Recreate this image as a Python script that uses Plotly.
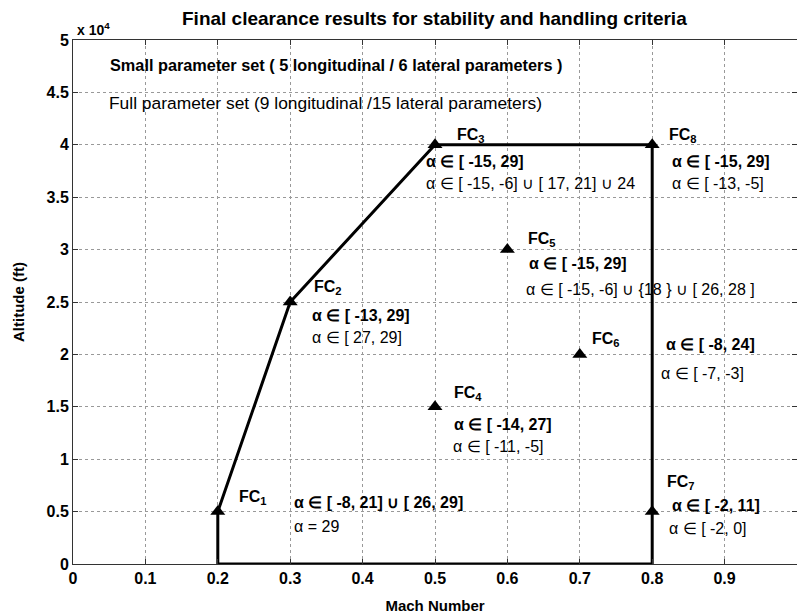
import plotly.graph_objects as go

# ---------------- data ----------------
envelope_mach = [0.2, 0.2, 0.3, 0.5, 0.8, 0.8, 0.2]
envelope_alt = [0, 5000, 25000, 40000, 40000, 0, 0]

fc_names = ["FC<sub>1</sub>", "FC<sub>2</sub>", "FC<sub>3</sub>", "FC<sub>4</sub>",
            "FC<sub>5</sub>", "FC<sub>6</sub>", "FC<sub>7</sub>", "FC<sub>8</sub>"]
fc_mach = [0.2, 0.3, 0.5, 0.5, 0.6, 0.7, 0.8, 0.8]
fc_alt = [5000, 25000, 40000, 15000, 30000, 20000, 5000, 40000]

small_set = ["α ∈ [ -8, 21] ∪ [ 26, 29]", "α ∈ [ -13, 29]", "α ∈ [ -15, 29]",
             "α ∈ [ -14, 27]", "α ∈ [ -15, 29]", "α ∈ [ -8, 24]",
             "α ∈ [ -2, 11]", "α ∈ [ -15, 29]"]
full_set = ["α = 29", "α ∈ [ 27, 29]", "α ∈ [ -15, -6] ∪ [ 17, 21] ∪ 24",
            "α ∈ [ -11, -5]", "α ∈ [ -15, -6] ∪ {18 } ∪ [ 26, 28 ]", "α ∈ [ -7, -3]",
            "α ∈ [ -2, 0]", "α ∈ [ -13, -5]"]

x_ticks = [0, 0.1, 0.2, 0.3, 0.4, 0.5, 0.6, 0.7, 0.8, 0.9, 1.0]
x_tick_labels = ["0", "0.1", "0.2", "0.3", "0.4", "0.5", "0.6", "0.7", "0.8", "0.9", "1"]
y_ticks = [0, 5000, 10000, 15000, 20000, 25000, 30000, 35000, 40000, 45000, 50000]
y_tick_labels = ["0", "0.5", "1", "1.5", "2", "2.5", "3", "3.5", "4", "4.5", "5"]

title_text = "Final clearance results for stability and handling criteria"
small_legend = "Small parameter set ( 5 longitudinal / 6 lateral parameters )"
full_legend = "Full parameter set (9 longitudinal /15 lateral parameters)"

# ---------------- label placement (layout only) ----------------
name_pos = [(0.226, 6300), (0.330, 26400), (0.528, 40900), (0.524, 16300),
            (0.625, 31000), (0.714, 21400), (0.818, 7800), (0.820, 40900)]
small_pos = [(0.302, 5900), (0.327, 23700), (0.485, 38400), (0.524, 13300),
             (0.627, 28700), (0.816, 20900), (0.825, 5600), (0.825, 38400)]
full_pos = [(0.302, 3600), (0.327, 21600), (0.485, 36300), (0.522, 11200),
            (0.623, 26200), (0.810, 18200), (0.821, 3400), (0.825, 36300)]

FONT = "Arial, 'Liberation Sans', Helvetica, sans-serif"
ANN = 16

fig = go.Figure()
fig.add_trace(go.Scatter(x=envelope_mach, y=envelope_alt, mode="lines",
                         line=dict(color="black", width=3), hoverinfo="skip",
                         showlegend=False))
fig.add_trace(go.Scatter(x=fc_mach, y=fc_alt, mode="markers",
                         marker=dict(symbol="triangle-up", size=13, color="black"),
                         showlegend=False))

annotations = []
for i in range(len(fc_names)):
    annotations.append(dict(x=name_pos[i][0], y=name_pos[i][1], xref="x", yref="y",
                            text="<b>" + fc_names[i] + "</b>", showarrow=False,
                            xanchor="left", yanchor="middle",
                            font=dict(size=ANN, color="black", family=FONT)))
    annotations.append(dict(x=small_pos[i][0], y=small_pos[i][1], xref="x", yref="y",
                            text="<b>" + small_set[i] + "</b>", showarrow=False,
                            xanchor="left", yanchor="middle",
                            font=dict(size=ANN, color="black", family=FONT)))
    annotations.append(dict(x=full_pos[i][0], y=full_pos[i][1], xref="x", yref="y",
                            text=full_set[i], showarrow=False,
                            xanchor="left", yanchor="middle",
                            font=dict(size=ANN, color="black", family=FONT)))

annotations.append(dict(x=0.048, y=47600, xref="x", yref="y", text="<b>" + small_legend + "</b>",
                        showarrow=False, xanchor="left", yanchor="middle",
                        font=dict(size=16.3, color="black", family=FONT)))
annotations.append(dict(x=0.047, y=44000, xref="x", yref="y", text=full_legend,
                        showarrow=False, xanchor="left", yanchor="middle",
                        font=dict(size=17.4, color="black", family=FONT)))
annotations.append(dict(x=0.003, y=1.0, xref="paper", yref="paper",
                        text="<b>x 10<sup>4</sup></b>", showarrow=False,
                        xanchor="left", yanchor="bottom",
                        font=dict(size=14, color="black", family=FONT)))

axis_common = dict(showline=True, linecolor="#333", linewidth=1, mirror="ticks",
                   ticks="inside", ticklen=5, tickcolor="#333",
                   showgrid=True, gridcolor="#999", griddash="dot", gridwidth=1,
                   zeroline=False,
                   tickfont=dict(size=16, color="black", family=FONT))

fig.update_layout(
    width=797, height=616,
    paper_bgcolor="white", plot_bgcolor="white",
    margin=dict(l=73, r=0, t=40, b=52),
    title=dict(text="<b>" + title_text + "</b>", x=0.545, xanchor="center",
               y=0.971, yanchor="middle",
               font=dict(size=19, color="black", family=FONT)),
    xaxis=dict(range=[0, 1], tickvals=x_ticks, ticktext=["<b>%s</b>" % t for t in x_tick_labels],
               title=dict(text="<b>Mach Number</b>", standoff=14,
                          font=dict(size=15, color="black", family=FONT)),
               **axis_common),
    yaxis=dict(range=[0, 50000], tickvals=y_ticks, ticktext=["<b>%s</b>" % t for t in y_tick_labels],
               title=dict(text="<b>Altitude (ft)</b>", standoff=18,
                          font=dict(size=15, color="black", family=FONT)),
               **axis_common),
    annotations=annotations,
    showlegend=False,
)

fig.write_html("out.html", config={"displayModeBar": False},
               post_script="document.body.style.margin='0';document.body.style.padding='0';")
